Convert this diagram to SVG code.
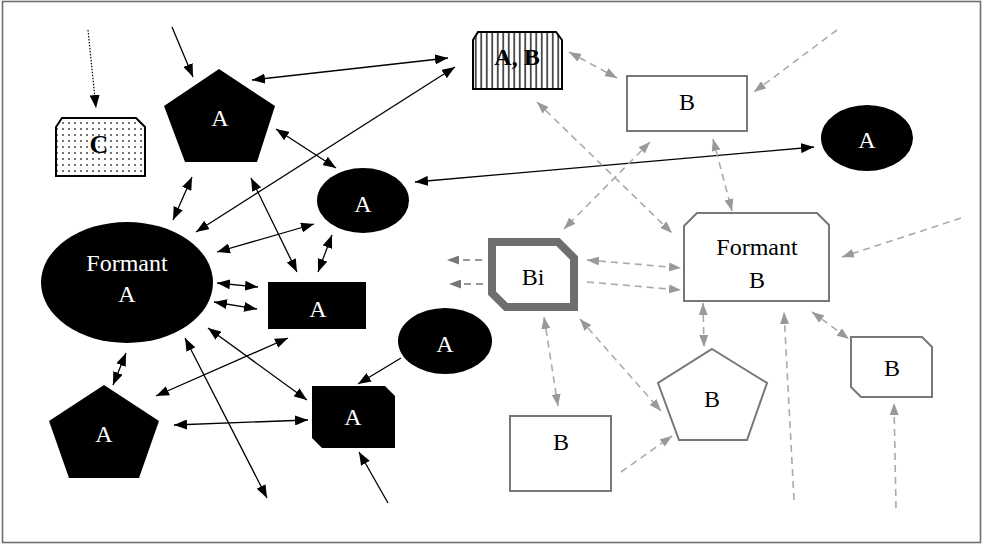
<svg xmlns="http://www.w3.org/2000/svg" width="984" height="545" viewBox="0 0 984 545">
<style>
.t{font-family:"Liberation Serif","Times New Roman",serif;font-size:24px;text-anchor:middle}
.w{fill:#fff}
.k{fill:#000}
.b{font-weight:bold}
.blk{fill:#000;stroke:none}
.bn{fill:#fff;stroke:#777;stroke-width:2}
.s{stroke:#000;stroke-width:1.3;fill:none}
.d{stroke:#aaa;stroke-width:1.6;fill:none;stroke-dasharray:7 5}
.dd{stroke:#777;stroke-width:1.6;fill:none;stroke-dasharray:7 5}
.dot{stroke:#000;stroke-width:1.2;fill:none;stroke-dasharray:1.5 1.5}
.mb{marker-end:url(#ab)}
.mbb{marker-start:url(#ab);marker-end:url(#ab)}
.mg{marker-end:url(#ag)}
.mgg{marker-start:url(#ag);marker-end:url(#ag)}
.md{marker-end:url(#ad)}
</style>
<defs>
<marker id="ab" viewBox="0 0 13 10" refX="13" refY="5" markerWidth="13" markerHeight="10" markerUnits="userSpaceOnUse" orient="auto-start-reverse"><path d="M0,0 L13,5 L0,10 Z" fill="#000"/></marker>
<marker id="ag" viewBox="0 0 12 9" refX="12" refY="4.5" markerWidth="12" markerHeight="9" markerUnits="userSpaceOnUse" orient="auto-start-reverse"><path d="M0,0 L12,4.5 L0,9 Z" fill="#999"/></marker>
<marker id="ad" viewBox="0 0 12 9" refX="12" refY="4.5" markerWidth="12" markerHeight="9" markerUnits="userSpaceOnUse" orient="auto-start-reverse"><path d="M0,0 L12,4.5 L0,9 Z" fill="#777"/></marker>
<pattern id="dots" width="6" height="6" patternUnits="userSpaceOnUse"><rect width="6" height="6" fill="#fff"/><circle cx="3" cy="3" r="0.9" fill="#333"/></pattern>
<pattern id="stripes" width="5.5" height="10" patternUnits="userSpaceOnUse"><rect width="5.5" height="10" fill="#fff"/><line x1="2.75" y1="0" x2="2.75" y2="10" stroke="#000" stroke-width="1.3"/></pattern>
</defs>
<rect x="0" y="0" width="984" height="545" fill="#fff"/>
<rect x="2.5" y="1.5" width="978" height="541" fill="none" stroke="#6f6f6f" stroke-width="1.6"/>

<g id="connectors">
<line class="dot mb" x1="88" y1="30" x2="96" y2="108"/>
<line class="s mb" x1="172" y1="27" x2="193" y2="77"/>
<line class="s mbb" x1="252" y1="80" x2="448" y2="58"/>
<line class="s mbb" x1="196" y1="232" x2="455" y2="67"/>
<line class="s mbb" x1="276" y1="129" x2="336" y2="168"/>
<line class="s mbb" x1="415" y1="182" x2="814" y2="147"/>
<line class="s mbb" x1="192" y1="177" x2="173" y2="220"/>
<line class="s mbb" x1="251" y1="178" x2="297" y2="272"/>
<line class="s mbb" x1="217" y1="252" x2="314" y2="224"/>
<line class="s mbb" x1="332" y1="235" x2="318" y2="272"/>
<line class="s mbb" x1="217" y1="283" x2="258" y2="287"/>
<line class="s mbb" x1="214" y1="302" x2="257" y2="309"/>
<line class="s mbb" x1="126" y1="353" x2="113" y2="385"/>
<line class="s mbb" x1="288" y1="338" x2="156" y2="396"/>
<line class="s mbb" x1="208" y1="328" x2="307" y2="400"/>
<line class="s mbb" x1="185" y1="338" x2="267" y2="498"/>
<line class="s mbb" x1="174" y1="425" x2="308" y2="420"/>
<line class="s mb" x1="401" y1="358" x2="358" y2="384"/>
<line class="s mb" x1="388" y1="503" x2="359" y2="452"/>

<line class="d mg" x1="837" y1="30" x2="754" y2="92"/>
<line class="d mgg" x1="569" y1="52" x2="617" y2="78"/>
<line class="d mgg" x1="537" y1="102" x2="672" y2="233"/>
<line class="d mgg" x1="650" y1="142" x2="564" y2="229"/>
<line class="d mgg" x1="713" y1="139" x2="732" y2="211"/>
<line class="d mg" x1="961" y1="218" x2="842" y2="257"/>
<line class="dd md" x1="482" y1="260" x2="447" y2="260"/>
<line class="dd md" x1="483" y1="284" x2="449" y2="284"/>
<line class="d mgg" x1="587" y1="260" x2="681" y2="268"/>
<line class="d mg" x1="587" y1="282" x2="681" y2="290"/>
<line class="d mgg" x1="703" y1="303" x2="704" y2="347"/>
<line class="d mg" x1="794" y1="500" x2="784" y2="312"/>
<line class="d mgg" x1="812" y1="312" x2="849" y2="339"/>
<line class="d mgg" x1="544" y1="317" x2="558" y2="406"/>
<line class="d mgg" x1="580" y1="319" x2="661" y2="411"/>
<line class="d mg" x1="621" y1="472" x2="672" y2="436"/>
<line class="d mg" x1="896" y1="508" x2="894" y2="403"/>
</g>

<g id="nodeC">
<path d="M56,127 L62,118 H136 L145,127 V176 H56 Z" fill="url(#dots)" stroke="#000" stroke-width="2"/>
<text class="t k b" x="99" y="153" style="font-size:26px">C</text>
</g>
<g id="pentA1">
<polygon class="blk" points="219,69 275,106 257,162 185,162 164,106"/>
<text class="t w" x="220" y="126">A</text>
</g>
<g id="ellA1">
<ellipse class="blk" cx="363" cy="200.5" rx="46" ry="32.5"/>
<text class="t w" x="363" y="212">A</text>
</g>
<g id="formantA">
<ellipse class="blk" cx="127" cy="282.5" rx="86" ry="60.5"/>
<text class="t w" x="127" y="271">Formant</text>
<text class="t w" x="127" y="302">A</text>
</g>
<g id="rectA">
<rect class="blk" x="268" y="282" width="98" height="47"/>
<text class="t w" x="318" y="317">A</text>
</g>
<g id="pentA2">
<polygon class="blk" points="104,385 159,421 139,478 69,478 49,421"/>
<text class="t w" x="104" y="442">A</text>
</g>
<g id="ellA2">
<ellipse class="blk" cx="445" cy="341" rx="47" ry="33"/>
<text class="t w" x="445" y="352">A</text>
</g>
<g id="cutA">
<path class="blk" d="M312,386 H385 L395,396 V448 H322 L312,438 Z"/>
<text class="t w" x="353" y="425">A</text>
</g>
<g id="nodeAB">
<path d="M473,40 L478,32 H556 L562,40 V89 H473 Z" fill="url(#stripes)" stroke="#000" stroke-width="2"/>
<text class="t k b" x="517" y="65">A, B</text>
</g>
<g id="rectB1">
<rect class="bn" x="627" y="76" width="120" height="55"/>
<text class="t k" x="687" y="110">B</text>
</g>
<g id="ellA3">
<ellipse class="blk" cx="867" cy="138" rx="46" ry="33"/>
<text class="t w" x="867" y="148">A</text>
</g>
<g id="formantB">
<path class="bn" d="M684,226 L697,213 H817 L829,225 V301 H684 Z"/>
<text class="t k" x="757" y="255">Formant</text>
<text class="t k" x="757" y="288">B</text>
</g>
<g id="nodeBi">
<path d="M492,242 H558 L574,258 V307 H506 L492,293 Z" fill="#fff" stroke="#6e6e6e" stroke-width="8"/>
<text class="t k" x="533" y="285">Bi</text>
</g>
<g id="rectB2">
<rect class="bn" x="510" y="416" width="101" height="75"/>
<text class="t k" x="561" y="450">B</text>
</g>
<g id="pentB">
<polygon class="bn" points="712,349 767,383 747,440 679,440 658,383"/>
<text class="t k" x="712" y="407">B</text>
</g>
<g id="cutB">
<path class="bn" d="M851,337 H922 L932,347 V397 H861 L851,387 Z"/>
<text class="t k" x="892" y="376">B</text>
</g>
</svg>
